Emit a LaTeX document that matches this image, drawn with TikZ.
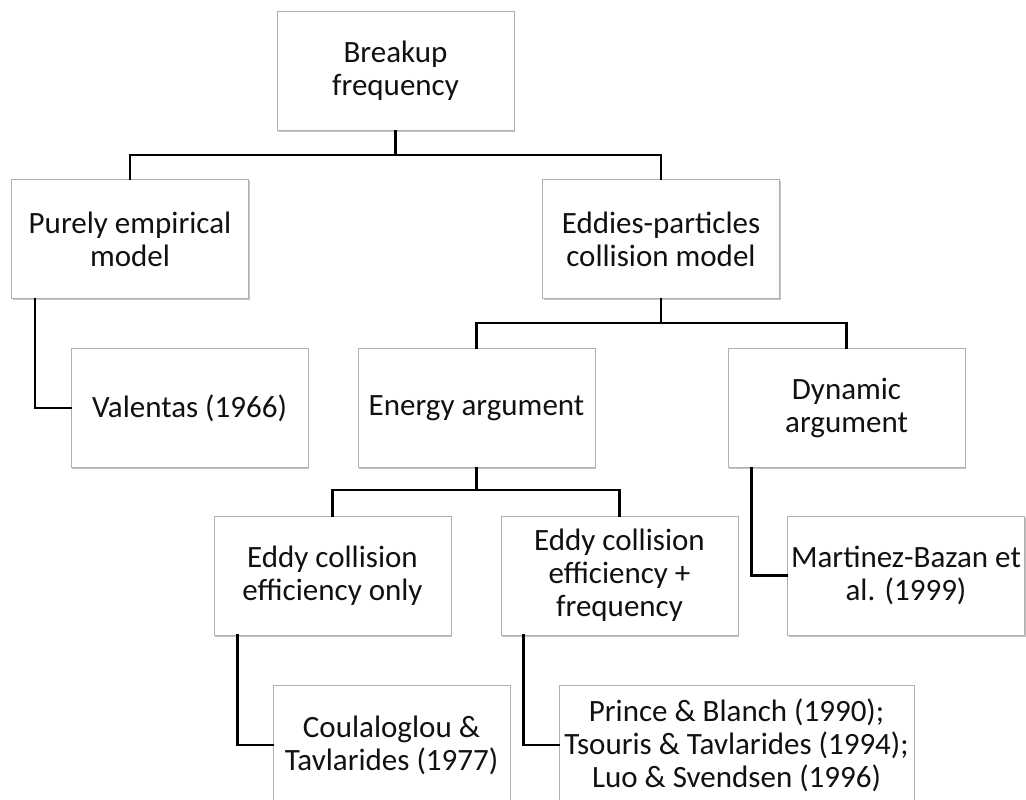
\documentclass[tikz,border=0pt]{standalone}
\usepackage{fontspec}
\setmainfont{Carlito}
\usetikzlibrary{shadows,calc}
\definecolor{boxborder}{HTML}{B0B0B0}
\definecolor{boxtext}{HTML}{111111}
\tikzset{
  box/.style={rectangle, draw=boxborder, line width=0.9pt, fill=white,
    minimum width=237pt, minimum height=119pt, inner sep=0pt, align=center,
    text=boxtext, font=\fontsize{31}{33}\selectfont,
    drop shadow={shadow xshift=1.2pt, shadow yshift=-1.8pt, opacity=0.45, fill=gray}},
  widebox/.style={box, minimum width=355pt},
  link/.style={draw=black, line width=2.7pt, line cap=rect}
}
\begin{document}
\begin{tikzpicture}[x=1pt,y=-1pt]
\useasboundingbox (0,0) rectangle (1026,800);
\fill[white] (0,0) rectangle (1026,800);

\node[box] (bf) at (395.5,71) {Breakup\\frequency};
\node[box] (pe) at (130,239) {Purely empirical\\model};
\node[box] (ep) at (661,239) {Eddies-particles\\collision model};
\node[box] (va) at (189.5,408) {Valentas (1966)};
\node[box] (en) at (476.5,408) {Energy argument};
\node[box] (dy) at (846.5,408) {Dynamic\\argument};
\node[box] (eo) at (332.5,575.5) {Eddy collision\\efficiency only};
\node[box] (ef) at (619.5,575.5) {Eddy collision\\efficiency +\\frequency};
\node[box] (mb) at (906,575.5) {Martinez-Bazan et\\al. (1999)};
\node[box] (ct) at (391.5,745) {Coulaloglou \&\\Tavlarides (1977)};
\node[widebox] (pb) at (736.5,745) {Prince \& Blanch (1990);\\Tsouris \& Tavlarides (1994);\\Luo \& Svendsen (1996)};

% connectors
\coordinate (j1) at ($(bf.south)+(0,24)$);
\coordinate (j2) at ($(ep.south)+(0,24)$);
\coordinate (j3) at ($(en.south)+(0,22)$);

\draw[link] (bf.south) -- (j1) -| (pe.north);
\draw[link] (j1) -| (ep.north);
\draw[link] ([xshift=24pt]pe.south west) |- (va.west);
\draw[link] (ep.south) -- (j2) -| (en.north);
\draw[link] (j2) -| (dy.north);
\draw[link] ([xshift=24pt]dy.south west) |- (mb.west);
\draw[link] (en.south) -- (j3) -| (eo.north);
\draw[link] (j3) -| (ef.north);
\draw[link] ([xshift=24pt]eo.south west) |- (ct.west);
\draw[link] ([xshift=23pt]ef.south west) |- (pb.west);
\end{tikzpicture}
\end{document}
